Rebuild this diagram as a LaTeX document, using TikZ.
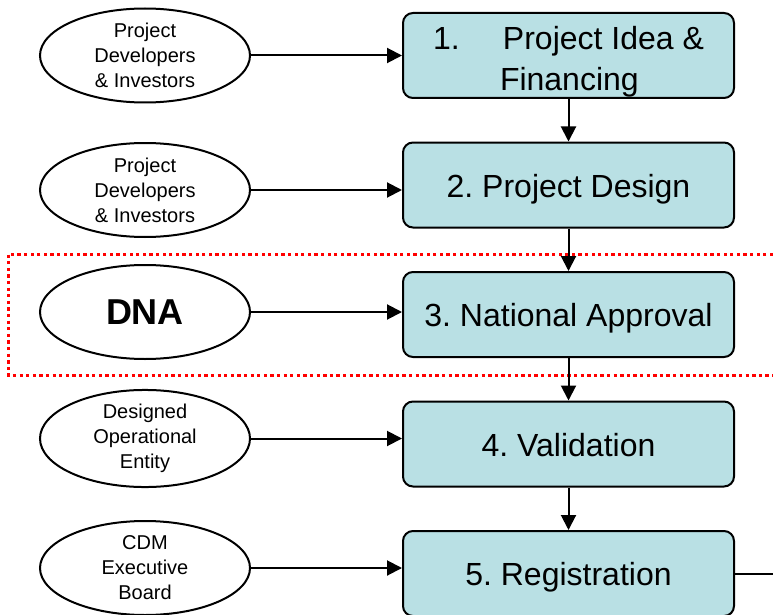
\documentclass[tikz,border=0pt]{standalone}
\usepackage{fontspec}
\setmainfont{Liberation Sans}
\usepackage{tikz}
\usetikzlibrary{arrows.meta}
\usetikzlibrary{positioning}
\usetikzlibrary{shapes}
\definecolor{stagefill}{RGB}{185,224,228}
\frenchspacing

\begin{document}
\begin{tikzpicture}[x=1pt,y=-1pt,
                stage/.style={rectangle, rounded corners=10pt, fill=stagefill, draw, line width=2pt,
                              minimum width=331pt, minimum height=85pt, text height=24pt, text depth=0pt,
                              font=\fontsize{32}{41}\selectfont},
                actor/.style={ellipse, draw, line width=2pt, minimum width=210pt, minimum height=94pt,
                              inner sep=0pt, align=center, font=\fontsize{20}{25}\selectfont},
                arrow/.style={draw, line width=2pt, -{Triangle[length=15pt,width=15pt]}},
                highlight/.style={draw=red, line width=3pt, dash pattern=on 3.3pt off 3.3pt},
                node distance=42.5pt and 151pt
            ]
            \useasboundingbox (0,0) rectangle (773,615);
            \node[stage, label={[align=left, yshift=-6pt, font=\fontsize{32}{41}\selectfont]center:\makebox[70pt][l]{1.}Project Idea \&\\\hspace*{67pt}Financing}](s1) at (568.5,55.5){};
            \node[stage, below=of s1](s2){2. Project Design};
            \node[stage, below=of s2](s3){3. National Approval};
            \node[stage, below=of s3](s4){4. Validation};
            \node[stage, below=of s4](s5){5. Registration};
            \node[actor, left=of s1](pd1){Project\\Developers\\\& Investors};
            \node[actor, left=of s2, yshift=-5pt](pd2){Project\\Developers\\\& Investors};
            \node[actor, left=of s3, yshift=2.5pt, font=\fontsize{36}{40}\selectfont\bfseries](dna){DNA};
            \node[actor, left=of s4, yshift=5.5pt](doe){Designed\\Operational\\Entity};
            \node[actor, left=of s5, yshift=5.5pt](eb){CDM\\Executive\\Board};
            \coordinate (exit) at (773,572);
            % national approval step is highlighted
            \draw[highlight] (773,254) -| (8,375) -- (773,375);
            \path[arrow] (pd1) -- (pd1 -| s1.west);
            \path[arrow] (pd2) -- (pd2 -| s2.west);
            \path[arrow] (dna) -- (dna -| s3.west);
            \path[arrow] (doe) -- (doe -| s4.west);
            \path[arrow] (eb) -- (eb -| s5.west);
            \path[arrow] (s1) -- (s2);
            \path[arrow] (s2) -- (s3);
            \path[arrow] (s3) -- (s4);
            \path[arrow] (s4) -- (s5);
            \draw[line width=2pt] (s5.east) -- (s5.east -| exit);
        \end{tikzpicture}
\end{document}
